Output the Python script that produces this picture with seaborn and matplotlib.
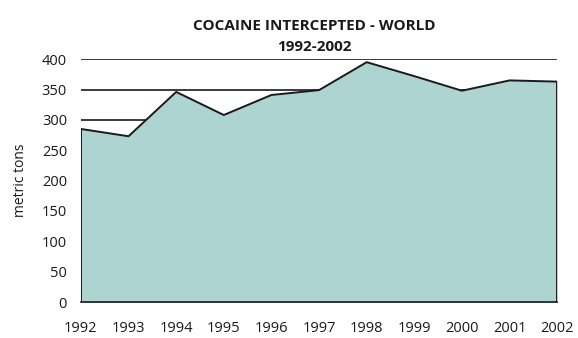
import matplotlib
matplotlib.use('Agg')
import seaborn as sns
import matplotlib.pyplot as plt

years = [1992, 1993, 1994, 1995, 1996, 1997, 1998, 1999, 2000, 2001, 2002]
tons = [285, 273, 346, 308, 341, 349, 395, 372, 348, 365, 363]
y_ticks = [0, 50, 100, 150, 200, 250, 300, 350, 400]

sns.set_style("white")
plt.rcParams['font.family'] = ['Open Sans', 'DejaVu Sans']
plt.rcParams['text.color'] = '#1a1a1a'
plt.rcParams['axes.labelcolor'] = '#1a1a1a'
plt.rcParams['xtick.color'] = '#1a1a1a'
plt.rcParams['ytick.color'] = '#1a1a1a'

fig = plt.figure(figsize=(5.78, 3.38), dpi=100)
ax = fig.add_axes([0.140, 0.1065, 0.824, 0.7185])

# grid lines sit behind the area
for v in y_ticks[1:]:
    ax.axhline(v, color='#1a1a1a', lw=1.2, zorder=0)

ax.fill_between(years, tons, 0, color='#aed4d1', zorder=1)
sns.lineplot(x=years, y=tons, ax=ax, color='#1a1a1a', lw=1.4, zorder=2)
ax.plot([years[-1], years[-1]], [0, tons[-1]], color='#1a1a1a', lw=1.4, zorder=2)
ax.plot([years[0], years[0]], [0, tons[0]], color='#1a1a1a', lw=1.4, zorder=2)

ax.set_xlim(years[0], years[-1])
ax.set_ylim(0, 400)
ax.set_xticks(years)
ax.set_xticklabels([str(y) for y in years], fontsize=10.5)
ax.set_yticks(y_ticks)
ax.set_yticklabels([str(v) for v in y_ticks], fontsize=10.5)
ax.tick_params(axis='x', direction='out', length=4, width=1, color='#1a1a1a', pad=10)
ax.tick_params(axis='y', length=0, pad=10)

for s in ['top', 'right']:
    ax.spines[s].set_visible(False)
ax.spines['left'].set_visible(False)
ax.spines['bottom'].set_color('#1a1a1a')
ax.spines['bottom'].set_linewidth(1.2)
ax.spines['bottom'].set_zorder(3)

ax.set_ylabel('metric tons', fontsize=10, labelpad=10)
ax.set_title('COCAINE INTERCEPTED - WORLD\n1992-2002', fontsize=11,
             fontweight='bold', linespacing=1.65, pad=6, x=0.49)

fig.savefig('out.png', dpi=100)
